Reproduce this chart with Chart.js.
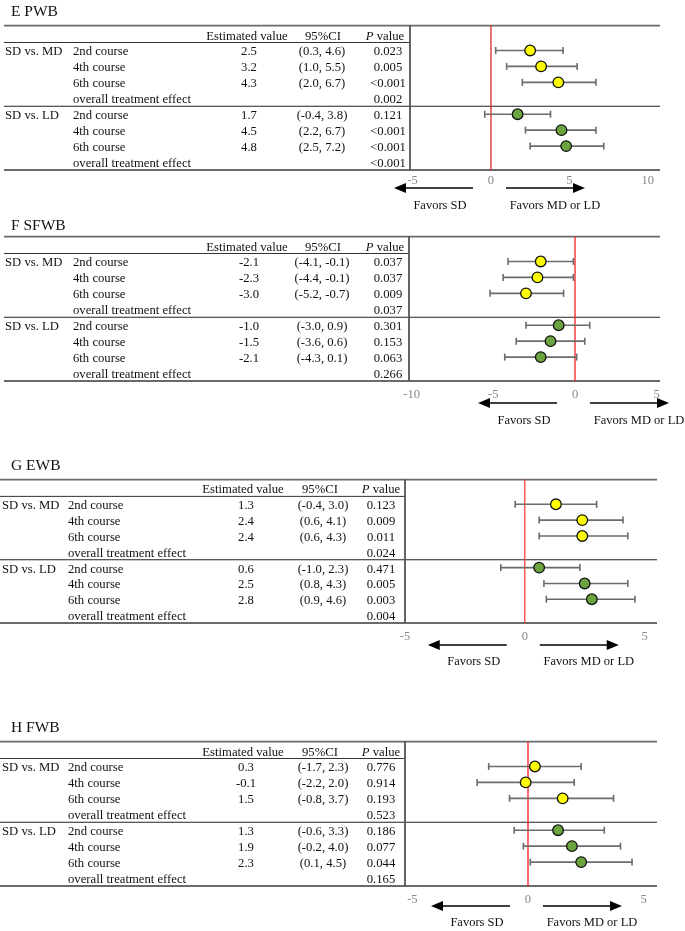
<!DOCTYPE html>
<html><head><meta charset="utf-8">
<script src="https://cdn.jsdelivr.net/npm/chart.js@4.4.1/dist/chart.umd.min.js"></script>
<style>
html,body{margin:0;padding:0;background:#fff;}
#wrap{position:relative;width:685px;height:931px;overflow:hidden;font-family:'Liberation Serif','Times New Roman',serif;color:#111;}
canvas{position:absolute;left:0;}
.t{position:absolute;white-space:nowrap;line-height:1;font-size:12.7px;transform:translateY(-50%);z-index:2;}
.c{transform:translate(-50%,-50%);}
.title{font-size:15.5px;}
.fav{font-size:12.5px;}
</style></head><body><div id="wrap"></div>
<script>
// ---------- data ----------
const groups = ['SD vs. MD', 'SD vs. LD'];
const courses = ['2nd course', '4th course', '6th course', 'overall treatment effect'];
const headers = ['Estimated value', '95%CI', '<i>P</i> value'];
const favorLabels = ['Favors SD', 'Favors MD or LD'];

// E PWB
const pwbEst = [2.5, 3.2, 4.3, null, 1.7, 4.5, 4.8, null];
const pwbLo  = [0.3, 1.0, 2.0, null, -0.4, 2.2, 2.5, null];
const pwbHi  = [4.6, 5.5, 6.7, null, 3.8, 6.7, 7.2, null];
const pwbP   = ['0.023', '0.005', '<0.001', '0.002', '0.121', '<0.001', '<0.001', '<0.001'];
const pwbTicks = [-5, 0, 5, 10];

// F SFWB
const sfwbEst = [-2.1, -2.3, -3.0, null, -1.0, -1.5, -2.1, null];
const sfwbLo  = [-4.1, -4.4, -5.2, null, -3.0, -3.6, -4.3, null];
const sfwbHi  = [-0.1, -0.1, -0.7, null, 0.9, 0.6, 0.1, null];
const sfwbP   = ['0.037', '0.037', '0.009', '0.037', '0.301', '0.153', '0.063', '0.266'];
const sfwbTicks = [-10, -5, 0, 5];

// G EWB
const ewbEst = [1.3, 2.4, 2.4, null, 0.6, 2.5, 2.8, null];
const ewbLo  = [-0.4, 0.6, 0.6, null, -1.0, 0.8, 0.9, null];
const ewbHi  = [3.0, 4.1, 4.3, null, 2.3, 4.3, 4.6, null];
const ewbP   = ['0.123', '0.009', '0.011', '0.024', '0.471', '0.005', '0.003', '0.004'];
const ewbTicks = [-5, 0, 5];

// H FWB
const fwbEst = [0.3, -0.1, 1.5, null, 1.3, 1.9, 2.3, null];
const fwbLo  = [-1.7, -2.2, -0.8, null, -0.6, -0.2, 0.1, null];
const fwbHi  = [2.3, 2.0, 3.7, null, 3.3, 4.0, 4.5, null];
const fwbP   = ['0.776', '0.914', '0.193', '0.523', '0.186', '0.077', '0.044', '0.165'];
const fwbTicks = [-5, 0, 5];

// ---------- layout ----------
const colsEF = {g:5, c:73, eH:247, eV:249, ciH:323, ciV:322, pH:385, pV:388};
const colsGH = {g:2, c:68, eH:243, eV:246, ciH:320, ciV:323, pH:381, pV:381};
const panels = [
  {title:'E PWB', titleY:10, est:pwbEst, lo:pwbLo, hi:pwbHi, p:pwbP, ticks:pwbTicks, xmin:-5.17, xmax:10.79,
   top:25, bottom:170, tl:4, left:410, right:660, cols:colsEF, tickPad:3, arrowY:18, textY:35, zero:'#d8262b'},
  {title:'F SFWB', titleY:224, est:sfwbEst, lo:sfwbLo, hi:sfwbHi, p:sfwbP, ticks:sfwbTicks, xmin:-10.16, xmax:5.2,
   top:236, bottom:381, tl:4, left:409, right:660, cols:colsEF, tickPad:6, arrowY:22, textY:39, zero:'#ff2020'},
  {title:'G EWB', titleY:464, est:ewbEst, lo:ewbLo, hi:ewbHi, p:ewbP, ticks:ewbTicks, xmin:-5.0, xmax:5.52,
   top:479, bottom:623, tl:0, left:405, right:657, cols:colsGH, tickPad:6, arrowY:22, textY:38, zero:'#ff4040'},
  {title:'H FWB', titleY:726, est:fwbEst, lo:fwbLo, hi:fwbHi, p:fwbP, ticks:fwbTicks, xmin:-5.32, xmax:5.58,
   top:741, bottom:886, tl:0, left:405, right:657, cols:colsGH, tickPad:6, arrowY:20, textY:36, zero:'#ff1a1a'}
];

const wrap = document.getElementById('wrap');
const PADT = 6, AXH = 22, BELOW = 50, W = 685;

function txt(s, x, y, cls, html){
  const d = document.createElement('div');
  d.className = 't ' + (cls || '');
  d.style.left = x + 'px'; d.style.top = y + 'px';
  if (html) d.innerHTML = s; else d.textContent = s;
  wrap.appendChild(d);
}

function forestPlugin(p){
  function line(ctx, x1, y1, x2, y2, col, w){
    ctx.beginPath(); ctx.strokeStyle = col; ctx.lineWidth = w;
    ctx.moveTo(x1, y1); ctx.lineTo(x2, y2); ctx.stroke();
  }
  return {
    id: 'forest',
    beforeDatasetsDraw(chart){
      const {ctx, chartArea:a, scales:{x, y}} = chart;
      ctx.save();
      // table rules
      line(ctx, p.tl, a.top, a.right, a.top, '#6a6a6a', 1.8);
      line(ctx, p.tl, y.getPixelForValue(0.5), a.left, y.getPixelForValue(0.5), '#333', 1);
      line(ctx, p.tl, y.getPixelForValue(4.5), a.right, y.getPixelForValue(4.5), '#222', 1.1);
      line(ctx, p.tl, a.bottom, a.right, a.bottom, '#6a6a6a', 1.8);
      line(ctx, a.left, a.top, a.left, a.bottom, '#555', 1.8);
      // zero line
      const x0 = x.getPixelForValue(0);
      line(ctx, x0, a.top, x0, a.bottom, p.zero, 1.3);
      // CI bars
      p.est.forEach((v, i) => {
        if (v === null) return;
        const yy = y.getPixelForValue(i + 1);
        const xl = x.getPixelForValue(p.lo[i]), xh = x.getPixelForValue(p.hi[i]);
        line(ctx, xl, yy, xh, yy, '#6b6b6b', 1.6);
        line(ctx, xl, yy - 3.5, xl, yy + 3.5, '#6b6b6b', 1.6);
        line(ctx, xh, yy - 3.5, xh, yy + 3.5, '#6b6b6b', 1.6);
      });
      // direction arrows
      const ay = a.bottom + p.arrowY;
      ctx.fillStyle = '#000';
      line(ctx, x0 - 18, ay, x0 - 86, ay, '#000', 1.6);
      ctx.beginPath(); ctx.moveTo(x0 - 97, ay); ctx.lineTo(x0 - 85, ay - 5); ctx.lineTo(x0 - 85, ay + 5); ctx.closePath(); ctx.fill();
      line(ctx, x0 + 15, ay, x0 + 83, ay, '#000', 1.6);
      ctx.beginPath(); ctx.moveTo(x0 + 94, ay); ctx.lineTo(x0 + 82, ay - 5); ctx.lineTo(x0 + 82, ay + 5); ctx.closePath(); ctx.fill();
      ctx.restore();
    }
  };
}

panels.forEach(p => {
  const H = (p.bottom - p.top) + PADT + AXH + BELOW;
  const cv = document.createElement('canvas');
  cv.width = W; cv.height = H;
  cv.style.width = W + 'px'; cv.style.height = H + 'px';
  const ctop = p.top - PADT;
  cv.style.top = ctop + 'px';
  wrap.appendChild(cv);
  const md = [], ld = [];
  p.est.forEach((v, i) => { if (v !== null) (i < 4 ? md : ld).push({x: v, y: i + 1}); });
  const chart = new Chart(cv, {
    type: 'scatter',
    data: {datasets: [
      {data: md, backgroundColor: '#FFFF00', borderColor: '#111', borderWidth: 1.3, pointRadius: 5.3},
      {data: ld, backgroundColor: '#6BA33E', borderColor: '#111', borderWidth: 1.3, pointRadius: 5.3}
    ]},
    options: {
      responsive: false, animation: false, devicePixelRatio: 1,
      layout: {padding: {left: p.left, right: W - p.right, top: PADT, bottom: BELOW}},
      plugins: {legend: {display: false}, tooltip: {enabled: false}},
      events: [],
      scales: {
        x: {type: 'linear', min: p.xmin, max: p.xmax,
            grid: {display: false, drawTicks: false}, border: {display: false},
            afterBuildTicks: s => { s.ticks = p.ticks.map(v => ({value: v})); },
            afterFit: s => { s.height = AXH; },
            ticks: {padding: p.tickPad, color: '#888', autoSkip: false, maxRotation: 0,
                    font: {family: 'Liberation Serif', size: 12.5}}},
        y: {type: 'linear', min: -0.56, max: 8.5, reverse: true, display: false}
      }
    },
    plugins: [forestPlugin(p)]
  });
  const ys = chart.scales.y, xs = chart.scales.x;
  const rowY = k => ctop + ys.getPixelForValue(k) + 1;
  // title
  txt(p.title, 11, p.titleY + 1, 'title');
  // headers
  const c = p.cols;
  txt(headers[0], c.eH, rowY(0), 'c');
  txt(headers[1], c.ciH, rowY(0), 'c');
  txt(headers[2], c.pH, rowY(0), 'c', true);
  // rows
  for (let i = 0; i < 8; i++) {
    const k = i + 1;
    if (i % 4 === 0) txt(groups[i / 4], c.g, rowY(k));
    txt(courses[i % 4], c.c, rowY(k));
    if (p.est[i] !== null) {
      txt(p.est[i].toFixed(1), c.eV, rowY(k), 'c');
      txt('(' + p.lo[i].toFixed(1) + ', ' + p.hi[i].toFixed(1) + ')', c.ciV, rowY(k), 'c');
    }
    txt(p.p[i], c.pV, rowY(k), 'c');
  }
  // favor labels
  const x0 = xs.getPixelForValue(0);
  const fy = ctop + chart.chartArea.bottom + p.textY;
  txt(favorLabels[0], x0 - 51, fy, 'c fav');
  txt(favorLabels[1], x0 + 64, fy, 'c fav');
});
</script>
</body></html>
